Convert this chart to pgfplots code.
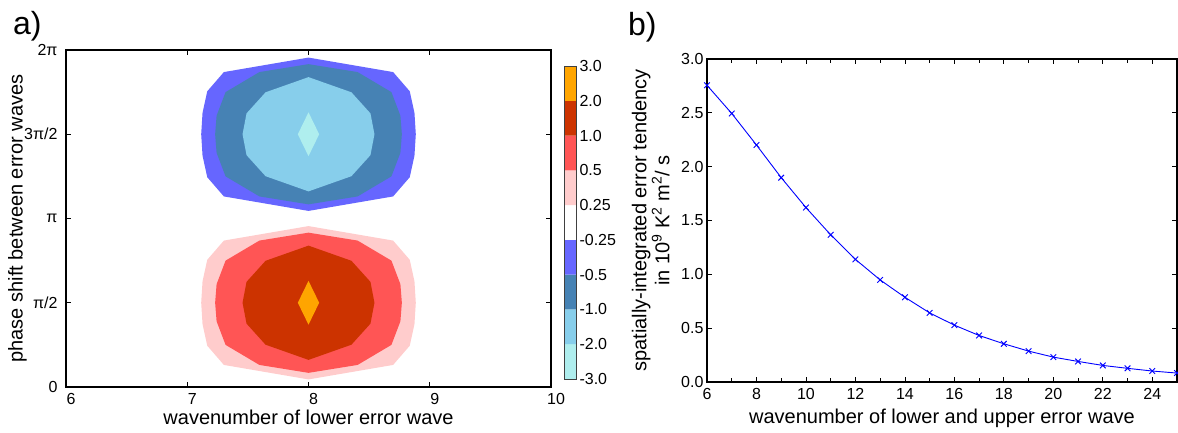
\documentclass[border=0pt]{standalone}
\usepackage{fontspec}
\setmainfont{Liberation Sans}
\usepackage{pgfplots}
\pgfplotsset{compat=1.18}
\definecolor{cPaleTurq}{HTML}{AFEEEE}
\definecolor{cSky}{HTML}{87CEEB}
\definecolor{cSteel}{HTML}{4682B4}
\definecolor{cBlue}{HTML}{6666FF}
\definecolor{cPink}{HTML}{FFCCCC}
\definecolor{cRed}{HTML}{FF5555}
\definecolor{cDark}{HTML}{CC3300}
\definecolor{cOrange}{HTML}{FFA500}
\pgfplotsset{
  myaxis/.style={
    scale only axis, anchor=south west,
    tick align=inside, major tick length=5pt, minor tick length=4pt,
    axis line style={line width=1.1pt, black},
    every tick/.style={black, line width=0.8pt},
    tick label style={font=\fontsize{16}{18}\selectfont},
    label style={font=\fontsize{20}{23}\selectfont},
    /pgf/number format/assume math mode=true,
  }
}
\begin{document}
\begin{tikzpicture}[x=1pt,y=1pt]
\path[use as bounding box] (0,0) rectangle (1178,432);
\node[anchor=base west, inner sep=0pt, font=\fontsize{32}{32}\selectfont] at (13,397) {a)};
\node[anchor=base west, inner sep=0pt, font=\fontsize{32}{32}\selectfont] at (628,396) {b)};
% ---------- panel a ----------
\begin{axis}[myaxis, at={(66pt,45pt)}, width=485pt, height=337pt,
  xmin=6, xmax=10, ymin=0, ymax=2,
  xtick={6,7,8,9,10},
  ytick={0,0.5,1,1.5,2}, yticklabels={0,π/2,π,3π/2,2π},
  xticklabel style={xshift=5pt, yshift=-3pt},
  yticklabel style={xshift=-5pt},
  xlabel={wavenumber of lower error wave},
  ylabel={phase shift between error waves},
  xlabel style={at={(axis description cs:0.5,-0.11)}, anchor=base},
  ylabel style={at={(axis description cs:-0.1,0.5)}, anchor=center},
]
% negative lobe (centre at 3pi/2)
\addplot[fill=cBlue, draw=none] coordinates {(8,1.955) (8.698,1.869) (8.835,1.755) (8.874,1.627) (8.885,1.5) (8.874,1.373) (8.835,1.245) (8.698,1.131) (8,1.045) (7.302,1.131) (7.165,1.245) (7.126,1.373) (7.115,1.5) (7.126,1.627) (7.165,1.755) (7.302,1.869) (8,1.955)};
\addplot[fill=cSteel, draw=none] coordinates {(8,1.916) (8.405,1.869) (8.684,1.75) (8.758,1.61) (8.77,1.5) (8.758,1.39) (8.684,1.25) (8.405,1.131) (8,1.084) (7.595,1.131) (7.316,1.25) (7.242,1.39) (7.23,1.5) (7.242,1.61) (7.316,1.75) (7.595,1.869) (8,1.916)};
\addplot[fill=cSky, draw=none] coordinates {(8,1.839) (8.354,1.749) (8.511,1.624) (8.544,1.5) (8.511,1.376) (8.354,1.251) (8,1.161) (7.646,1.251) (7.489,1.376) (7.456,1.5) (7.489,1.624) (7.646,1.749) (8,1.839)};
\addplot[fill=cPaleTurq, draw=none] coordinates {(8,1.63) (8.088,1.5) (8,1.37) (7.912,1.5) (8,1.63)};
% positive lobe (centre at pi/2)
\addplot[fill=cPink, draw=none] coordinates {(8,0.955) (8.698,0.869) (8.835,0.755) (8.874,0.627) (8.885,0.5) (8.874,0.373) (8.835,0.245) (8.698,0.131) (8,0.045) (7.302,0.131) (7.165,0.245) (7.126,0.373) (7.115,0.5) (7.126,0.627) (7.165,0.755) (7.302,0.869) (8,0.955)};
\addplot[fill=cRed, draw=none] coordinates {(8,0.916) (8.405,0.869) (8.684,0.75) (8.758,0.61) (8.77,0.5) (8.758,0.39) (8.684,0.25) (8.405,0.131) (8,0.084) (7.595,0.131) (7.316,0.25) (7.242,0.39) (7.23,0.5) (7.242,0.61) (7.316,0.75) (7.595,0.869) (8,0.916)};
\addplot[fill=cDark, draw=none] coordinates {(8,0.839) (8.354,0.749) (8.511,0.624) (8.544,0.5) (8.511,0.376) (8.354,0.251) (8,0.161) (7.646,0.251) (7.489,0.376) (7.456,0.5) (7.489,0.624) (7.646,0.749) (8,0.839)};
\addplot[fill=cOrange, draw=none] coordinates {(8,0.63) (8.088,0.5) (8,0.37) (7.912,0.5) (8,0.63)};
\end{axis}
% ---------- colour bar ----------
\begin{axis}[myaxis, at={(564pt,53pt)}, width=12pt, height=313pt,
  xmin=0, xmax=1, ymin=0, ymax=9, xtick=\empty,
  ytick={0,1,2,3,4,5,6,7,8,9},
  yticklabels={-3.0,-2.0,-1.0,-0.5,-0.25,0.25,0.5,1.0,2.0,3.0},
  yticklabel pos=right, major tick length=0pt,
  axis on top, axis line style={line width=1pt, black!75},
]
\addplot[fill=cPaleTurq, draw=none] coordinates {(0,0) (1,0) (1,1) (0,1) (0,0)};
\addplot[fill=cSky, draw=none] coordinates {(0,1) (1,1) (1,2) (0,2) (0,1)};
\addplot[fill=cSteel, draw=none] coordinates {(0,2) (1,2) (1,3) (0,3) (0,2)};
\addplot[fill=cBlue, draw=none] coordinates {(0,3) (1,3) (1,4) (0,4) (0,3)};
\addplot[fill=white, draw=none] coordinates {(0,4) (1,4) (1,5) (0,5) (0,4)};
\addplot[fill=cPink, draw=none] coordinates {(0,5) (1,5) (1,6) (0,6) (0,5)};
\addplot[fill=cRed, draw=none] coordinates {(0,6) (1,6) (1,7) (0,7) (0,6)};
\addplot[fill=cDark, draw=none] coordinates {(0,7) (1,7) (1,8) (0,8) (0,7)};
\addplot[fill=cOrange, draw=none] coordinates {(0,8) (1,8) (1,9) (0,9) (0,8)};
\end{axis}
% ---------- panel b ----------
\begin{axis}[myaxis, at={(707pt,50pt)}, width=470pt, height=323pt,
  xmin=6, xmax=25, ymin=0, ymax=3,
  xtick={6,8,10,12,14,16,18,20,22,24},
  minor xtick={7,9,11,13,15,17,19,21,23,25},
  ytick={0,0.5,1,1.5,2,2.5,3},
  xticklabel style={yshift=-3pt},
  yticklabel style={/pgf/number format/.cd, fixed, fixed zerofill, precision=1},
  xlabel={wavenumber of lower and upper error wave},
  ylabel={spatially-integrated error tendency\\in 10\textsuperscript{9} K\textsuperscript{2} m\textsuperscript{2}/ s},
  xlabel style={at={(axis description cs:0.5,-0.127)}, anchor=base},
  ylabel style={at={(axis description cs:-0.12,0.5)}, anchor=center, align=center},
  clip=false,
]
\addplot[color=blue, line width=0.9pt, mark=x, mark size=4pt] coordinates {
(6,2.756) (7,2.494) (8,2.201) (9,1.898) (10,1.620) (11,1.367) (12,1.139) (13,0.948) (14,0.787) (15,0.642) (16,0.528) (17,0.432) (18,0.355) (19,0.287) (20,0.231) (21,0.191) (22,0.154) (23,0.127) (24,0.102) (25,0.083)};
\end{axis}
\end{tikzpicture}
\end{document}
